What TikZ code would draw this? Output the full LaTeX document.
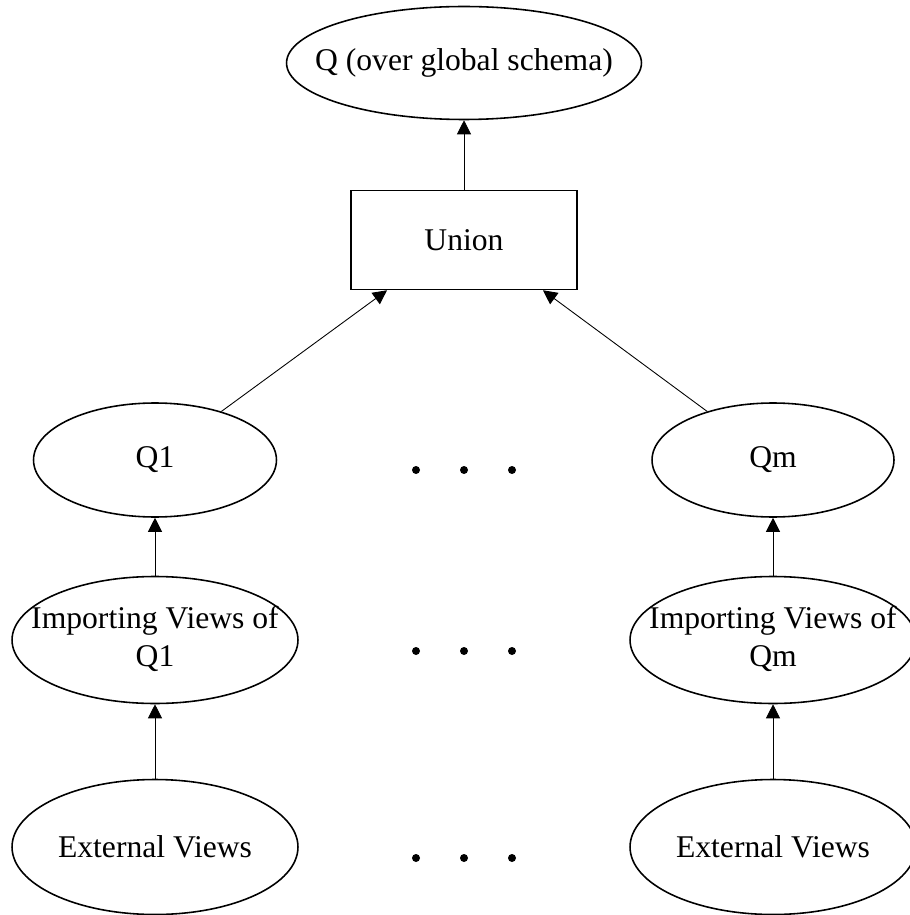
\documentclass[tikz,border=0pt]{standalone}
\usepackage{fontspec}
\setmainfont{Liberation Serif}
\usetikzlibrary{arrows.meta, shapes.geometric, positioning}

% text that may run over the border of its oval
\newcommand{\overrun}[1]{\makebox[0pt]{\begin{tabular}{@{}c@{}}#1\end{tabular}}}

\begin{document}
\begin{tikzpicture}[
    x = 0.02cm,
    y = -0.02cm,
    >={Triangle[length=8pt, width=8pt]},
    font = \fontsize{18}{21.5}\selectfont,
    ]

    \tikzstyle{oval}=[
    ellipse,
    draw = black,
    line width = 0.9pt,
    inner sep = 0pt,
    align = center,
    ]
    \tikzstyle{box}=[
    rectangle,
    draw = black,
    line width = 0.9pt,
    minimum width = 4.52cm,
    minimum height = 1.98cm,
    ]
    \tikzstyle{link}=[->, line width=0.5pt]

    \useasboundingbox (0,0) rectangle (909,915);

    \node[oval, minimum width=7.1cm, minimum height=2.26cm] (q) at (464,63) {\overrun{Q (over global schema)}};
    \node[box] (union) at (464,240) {Union};

    \node[oval, minimum width=4.86cm, minimum height=2.28cm] (q1) at (155,460) {Q1};
    \node[oval, minimum width=4.84cm, minimum height=2.28cm] (qm) at (773,460) {Qm};

    \node[oval, minimum width=5.72cm, minimum height=2.54cm] (imp1) at (155,640) {\overrun{Importing Views of\\Q1}};
    \node[oval, minimum width=5.72cm, minimum height=2.54cm] (impm) at (773,640) {\overrun{Importing Views of\\Qm}};

    \node[oval, minimum width=5.72cm, minimum height=2.7cm] (ext1) at (155,847) {External Views};
    \node[oval, minimum width=5.72cm, minimum height=2.7cm] (extm) at (773,847) {External Views};

    \draw[link] (union) -- (q);
    \draw[link] (q1) -- ([xshift=-1.54cm]union.south);
    \draw[link] (qm) -- ([xshift=1.58cm]union.south);
    \draw[link] (imp1) -- (q1);
    \draw[link] (impm) -- (qm);
    \draw[link] (ext1) -- (imp1);
    \draw[link] (extm) -- (impm);

    % the dots between the two columns
    \foreach \y in {470,651,858}
    \foreach \x in {416,464,512}
    \fill (\x,\y) circle (0.08cm);
\end{tikzpicture}
\end{document}
